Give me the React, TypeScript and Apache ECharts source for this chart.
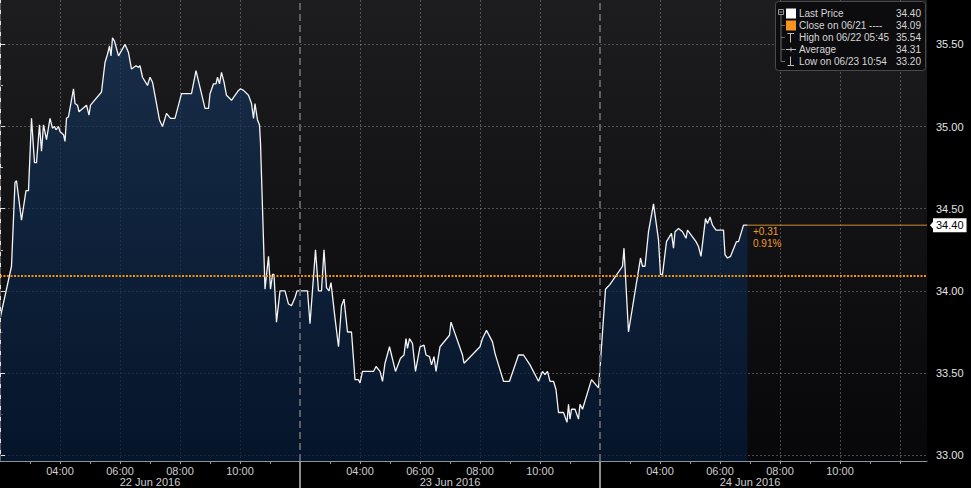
import React, { useEffect, useRef } from "react";
import * as echarts from "echarts";

// ---- data ----
const dayLabels = ["22 Jun 2016", "23 Jun 2016", "24 Jun 2016"];
const sessionStartHour = 2;
const sessionHours = 10;
const labeledClockHours = [4, 6, 8, 10];

const jun22Times = ["02:00","02:23","02:30","02:33","02:43","02:52","02:57","03:03","03:09","03:13","03:19","03:23","03:27","03:33","03:40","03:45","03:49","03:52","03:57","04:00","04:07","04:10","04:13","04:17","04:27","04:30","04:35","04:38","04:53","04:58","05:01","05:23","05:30","05:35","05:39","05:42","05:45","05:49","05:57","06:10","06:17","06:23","06:32","06:37","06:40","06:45","06:55","07:00","07:05","07:19","07:25","07:33","07:41","07:50","08:03","08:23","08:32","08:50","08:57","09:00","09:07","09:12","09:15","09:19","09:23","09:28","09:33","09:43","09:57","10:01","10:07","10:17","10:23","10:27","10:30","10:35","10:39","10:41","10:50","10:57","11:01","11:05","11:08","11:13","11:20","11:30","11:37","11:43","11:50","11:54","12:00"];
const jun22Prices = [33.83,34.15,34.66,34.67,34.43,34.61,34.61,35.05,34.78,34.78,35.01,34.85,35.01,34.92,35.05,34.99,35.00,34.98,35.00,34.97,34.95,34.91,35.05,35.06,35.23,35.14,35.13,35.09,35.13,35.07,35.13,35.21,35.39,35.44,35.49,35.43,35.54,35.52,35.43,35.50,35.45,35.35,35.37,35.36,35.37,35.30,35.25,35.30,35.27,35.04,35.00,35.08,35.05,35.05,35.20,35.20,35.34,35.11,35.11,35.20,35.26,35.26,35.30,35.26,35.33,35.27,35.19,35.16,35.22,35.23,35.22,35.19,35.14,35.05,35.14,35.04,35.01,34.90,34.01,34.21,34.01,34.10,34.10,33.81,34.00,34.00,33.92,33.91,33.96,34.00,34.00];

const jun23Times = ["02:15","02:20","02:31","02:37","02:43","02:48","02:53","02:58","03:02","03:09","03:17","03:23","03:28","03:35","03:43","03:50","03:57","04:00","04:05","04:27","04:32","04:40","04:45","04:50","04:59","05:11","05:21","05:28","05:32","05:35","05:39","05:45","05:51","06:00","06:08","06:12","06:19","06:23","06:28","06:32","06:40","06:59","07:02","07:25","07:28","08:00","08:05","08:13","08:25","08:30","08:37","08:47","08:59","09:17","09:27","09:40","09:57","10:05","10:10","10:15","10:20","10:27","10:32","10:37","10:47","10:54","10:57","11:00","11:03","11:10","11:17","11:20","11:25","11:43","11:57"];
const jun23Prices = [34.00,33.80,34.25,34.00,34.00,34.25,34.02,34.00,34.05,33.86,33.66,33.91,33.95,33.75,33.75,33.46,33.46,33.44,33.51,33.51,33.54,33.51,33.45,33.56,33.66,33.51,33.59,33.61,33.71,33.65,33.71,33.68,33.51,33.66,33.67,33.61,33.60,33.55,33.60,33.51,33.66,33.73,33.81,33.61,33.56,33.66,33.71,33.76,33.69,33.62,33.55,33.45,33.45,33.61,33.61,33.55,33.45,33.51,33.49,33.51,33.45,33.45,33.40,33.26,33.26,33.20,33.31,33.22,33.28,33.28,33.22,33.31,33.28,33.46,33.41];

const jun24Times = ["02:00","02:11","02:20","02:45","02:48","02:57","03:13","03:21","03:25","03:30","03:37","03:47","03:57","04:01","04:05","04:13","04:23","04:27","04:30","04:37","04:45","04:52","04:55","05:12","05:17","05:22","05:31","05:35","05:40","05:45","05:52","06:07","06:10","06:15","06:21","06:33","06:37","06:47","06:55"];
const jun24Prices = [33.53,34.01,34.04,34.15,34.26,33.75,34.05,34.20,34.15,34.15,34.36,34.53,34.31,34.10,34.10,34.30,34.35,34.26,34.36,34.38,34.36,34.32,34.37,34.30,34.27,34.21,34.44,34.41,34.45,34.40,34.37,34.37,34.22,34.20,34.21,34.30,34.30,34.40,34.40];

const lastPrice = 34.4;
const closePrice = 34.09;
const closeDate = "06/21";
const highPrice = 35.54;
const highTime = "06/22 05:45";
const averagePrice = 34.31;
const lowPrice = 33.2;
const lowTime = "06/23 10:54";

const yTickValues = [33, 33.5, 34, 34.5, 35, 35.5];
const yMinorTickValues = [33.25, 33.75, 34.25, 34.75, 35.25];

// ---- helpers ----
const FONT = "Liberation Sans";
const X_MAX = 30.9;
const Y_MIN = 32.965;
const Y_MAX = 35.77;

function toX(day: number, t: string) {
  const [h, m] = t.split(":").map(Number);
  return day * sessionHours + h + m / 60 - sessionStartHour;
}

const seriesData: number[][] = [];
[
  [jun22Times, jun22Prices],
  [jun23Times, jun23Prices],
  [jun24Times, jun24Prices],
].forEach(([times, prices], day) => {
  (times as string[]).forEach((t, i) => seriesData.push([toX(day, t), (prices as number[])[i]]));
});
const lastX = seriesData[seriesData.length - 1][0];

const labelValues: number[] = [];
dayLabels.forEach((_, d) => labeledClockHours.forEach((h) => labelValues.push(d * sessionHours + h - sessionStartHour)));
const gridValues = [...labelValues, dayLabels.length * sessionHours];
const dayBoundaries = dayLabels.map((_, d) => d * sessionHours);
const dayCenters = dayLabels.map((_, d) => d * sessionHours + sessionHours / 2);
const hourTicks: number[] = [];
for (let v = 1; v < dayLabels.length * sessionHours; v += 2) hourTicks.push(v);

const change = lastPrice - closePrice;
const changePct = (change / closePrice) * 100;
const changeText = `${change >= 0 ? "+" : ""}${change.toFixed(2)}\n${changePct.toFixed(2)}%`;

const pad = (n: number) => (n < 10 ? "0" + n : "" + n);

function buildLegend() {
  const rows = [
    { label: "Last Price", value: lastPrice },
    { label: `Close on ${closeDate} ----`, value: closePrice },
    { label: `High on ${highTime}`, value: highPrice },
    { label: "Average", value: averagePrice },
    { label: `Low on ${lowTime}`, value: lowPrice },
  ];
  const Z = 100;
  const txt = "#d6d6d6";
  const ico = "#bdbdbd";
  const rowY = (i: number) => 13.5 + i * 12;
  const els: any[] = [
    { type: "rect", z: Z, shape: { x: 775.5, y: 1.5, width: 150, height: 69, r: 3 }, style: { fill: "#0c0c0e", stroke: "#4a4a4e", lineWidth: 1 } },
    { type: "rect", z: Z, shape: { x: 778.5, y: 9.5, width: 5, height: 5 }, style: { fill: "none", stroke: "#9a9a9a", lineWidth: 1 } },
    { type: "line", z: Z, shape: { x1: 779.5, y1: 12, x2: 782.5, y2: 12 }, style: { stroke: "#9a9a9a", lineWidth: 1 } },
    { type: "line", z: Z, shape: { x1: 781, y1: 15, x2: 781, y2: rowY(4) }, style: { stroke: "#6a6a6a", lineWidth: 1 } },
    { type: "rect", z: Z, shape: { x: 786, y: rowY(0) - 5, width: 10, height: 10 }, style: { fill: "#ffffff" } },
    { type: "rect", z: Z, shape: { x: 786, y: rowY(1) - 5, width: 10, height: 10 }, style: { fill: "#f7941d" } },
    // high icon (T)
    { type: "line", z: Z, shape: { x1: 787.5, y1: rowY(2) - 4, x2: 794, y2: rowY(2) - 4 }, style: { stroke: ico, lineWidth: 1 } },
    { type: "line", z: Z, shape: { x1: 790.5, y1: rowY(2) - 4, x2: 790.5, y2: rowY(2) + 5 }, style: { stroke: ico, lineWidth: 1 } },
    // average icon (-+-)
    { type: "line", z: Z, shape: { x1: 786, y1: rowY(3), x2: 796, y2: rowY(3) }, style: { stroke: ico, lineWidth: 1 } },
    { type: "line", z: Z, shape: { x1: 791, y1: rowY(3) - 2, x2: 791, y2: rowY(3) + 2 }, style: { stroke: ico, lineWidth: 1 } },
    // low icon (inverted T)
    { type: "line", z: Z, shape: { x1: 790.5, y1: rowY(4) - 5, x2: 790.5, y2: rowY(4) + 4 }, style: { stroke: ico, lineWidth: 1 } },
    { type: "line", z: Z, shape: { x1: 787.5, y1: rowY(4) + 4, x2: 794, y2: rowY(4) + 4 }, style: { stroke: ico, lineWidth: 1 } },
  ];
  rows.forEach((r, i) => {
    if (i > 0) {
      els.push({ type: "line", z: Z, shape: { x1: 781, y1: rowY(i), x2: 785, y2: rowY(i) }, style: { stroke: "#6a6a6a", lineWidth: 1 } });
    }
    els.push({ type: "text", z: Z, x: 799, y: rowY(i), style: { text: r.label, fill: txt, fontSize: 10, fontFamily: FONT, align: "left", verticalAlign: "middle" } });
    els.push({ type: "text", z: Z, x: 921, y: rowY(i), style: { text: r.value.toFixed(2), fill: txt, fontSize: 10, fontFamily: FONT, align: "right", verticalAlign: "middle" } });
  });
  return els;
}

export default function App() {
  const ref = useRef<HTMLDivElement>(null);
  useEffect(() => {
    const chart = echarts.init(ref.current!, undefined, { renderer: "svg" });
    const gridLine = { show: true, lineStyle: { color: "rgba(165,165,175,0.42)", type: [2, 2], width: 1 } };
    const option: any = {
      animation: false,
      backgroundColor: "#000000",
      textStyle: { fontFamily: FONT },
      grid: {
        left: 0,
        right: 44,
        top: 0,
        bottom: 27,
        show: true,
        borderWidth: 0,
        backgroundColor: new echarts.graphic.LinearGradient(0, 0, 0, 1, [
          { offset: 0, color: "#1d1d20" },
          { offset: 1, color: "#07070a" },
        ]),
      },
      xAxis: [
        {
          type: "value",
          position: "bottom",
          min: 0,
          max: X_MAX,
          z: 3,
          axisLine: { show: true, lineStyle: { color: "#8a93a0", width: 1 } },
          axisTick: { show: true, customValues: gridValues, length: 3, lineStyle: { color: "#9a9a9a" } },
          axisLabel: {
            show: true,
            customValues: labelValues,
            color: "#cfcfcf",
            fontSize: 11,
            fontFamily: FONT,
            margin: 4,
            formatter: (v: number) => pad(Math.round(v % sessionHours) + sessionStartHour) + ":00",
          },
          splitLine: gridLine,
        },
        {
          type: "value",
          position: "bottom",
          min: 0,
          max: X_MAX,
          axisLine: { show: false },
          axisTick: { show: true, customValues: dayBoundaries.slice(1), length: 27, lineStyle: { color: "#8c8c8c", width: 2 } },
          axisLabel: {
            show: true,
            customValues: dayCenters,
            color: "#cfcfcf",
            fontSize: 11,
            fontFamily: FONT,
            margin: 15,
            formatter: (v: number) => dayLabels[Math.floor(v / sessionHours)],
          },
          splitLine: { show: false },
        },
        {
          type: "value",
          position: "bottom",
          min: 0,
          max: X_MAX,
          axisLine: { show: false },
          axisTick: { show: true, customValues: hourTicks, length: 3, lineStyle: { color: "#9a9a9a" } },
          axisLabel: { show: false },
          splitLine: { show: false },
        },
      ],
      yAxis: [
        {
          type: "value",
          position: "right",
          min: Y_MIN,
          max: Y_MAX,
          z: 3,
          axisLine: { show: true, lineStyle: { color: "#e0e0e0", width: 1 } },
          axisTick: { show: true, customValues: yTickValues, length: 5, lineStyle: { color: "#e0e0e0" } },
          axisLabel: {
            show: true,
            customValues: yTickValues,
            color: "#e4e4e4",
            fontSize: 11,
            fontFamily: FONT,
            margin: 9,
            formatter: (v: number) => v.toFixed(2),
          },
          splitLine: gridLine,
        },
        {
          type: "value",
          position: "right",
          min: Y_MIN,
          max: Y_MAX,
          axisLine: { show: false },
          axisTick: { show: true, customValues: yMinorTickValues, length: 3, lineStyle: { color: "#bdbdbd" } },
          axisLabel: { show: false },
          splitLine: { show: false },
        },
      ],
      series: [
        {
          type: "line",
          name: "Last Price",
          xAxisIndex: 0,
          yAxisIndex: 0,
          data: seriesData,
          showSymbol: false,
          symbol: "none",
          lineStyle: { color: "#f4f4f4", width: 1.3 },
          areaStyle: {
            origin: "start",
            color: new echarts.graphic.LinearGradient(0, 0, 0, 1, [
              { offset: 0, color: "#16345a" },
              { offset: 1, color: "#041a37" },
            ]),
          },
          markLine: {
            silent: true,
            symbol: ["none", "none"],
            animation: false,
            data: [
              ...dayBoundaries.map((v) => ({
                xAxis: v,
                lineStyle: { color: "#5e5e64", type: [7, 4], width: 2 },
                label: { show: false },
              })),
              {
                yAxis: closePrice,
                lineStyle: { color: "#f0920e", type: [2, 1.5], width: 2 },
                label: { show: false },
              },
            ],
          },
          markPoint: {
            silent: true,
            animation: false,
            data: [
              {
                coord: [lastX, lastPrice],
                symbol: "circle",
                symbolSize: 1,
                itemStyle: { color: "rgba(0,0,0,0)" },
                label: {
                  show: true,
                  position: [6, 1],
                  align: "left",
                  verticalAlign: "top",
                  formatter: changeText,
                  color: "#f09a26",
                  fontSize: 10,
                  lineHeight: 12,
                  fontFamily: FONT,
                },
              },
              {
                coord: [X_MAX, lastPrice],
                symbol: "path://M0,5L6,0L6,10Z",
                symbolSize: [4, 9],
                symbolOffset: [5, 0],
                itemStyle: { color: "#ffffff" },
                label: { show: false },
              },
            ],
          },
        },
        {
          type: "line",
          name: "Last Price Level",
          xAxisIndex: 0,
          yAxisIndex: 0,
          data: [
            [lastX, lastPrice],
            [X_MAX, lastPrice],
          ],
          showSymbol: false,
          symbol: "none",
          clip: false,
          z: 3,
          silent: true,
          lineStyle: { color: "#d08e2c", width: 1 },
          endLabel: {
            show: true,
            distance: 6,
            formatter: () => lastPrice.toFixed(2),
            color: "#000",
            backgroundColor: "#ffffff",
            padding: [2, 3, 1, 3],
            fontSize: 11,
            fontFamily: FONT,
          },
        },
      ],
      graphic: buildLegend(),
    };
    chart.setOption(option);
    return () => chart.dispose();
  }, []);
  return (
    <div
      ref={ref}
      style={{ position: "fixed", left: 0, top: 0, width: 971, height: 488, background: "#000" }}
    />
  );
}
